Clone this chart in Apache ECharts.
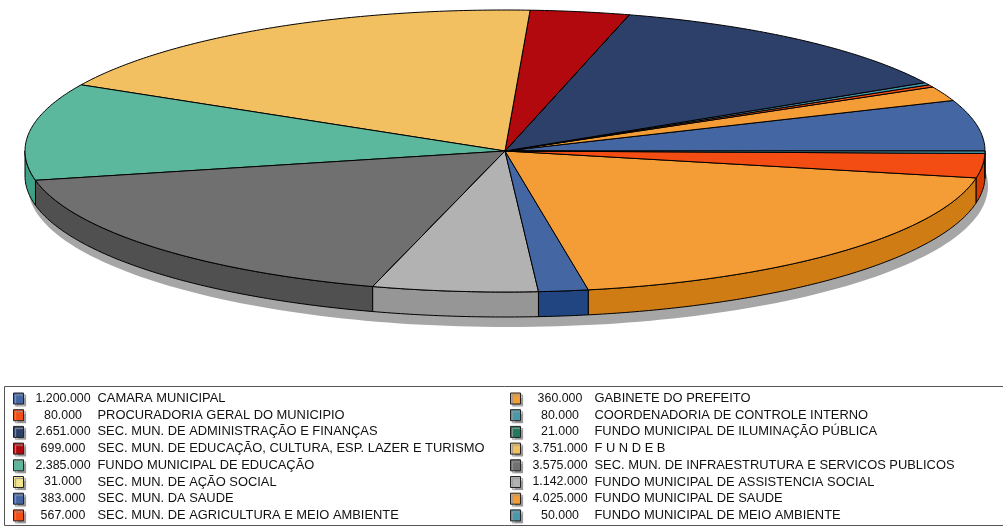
<!DOCTYPE html>
<html>
<head>
<meta charset="utf-8">
<title>Orçamento</title>
<style>
  html, body { margin: 0; padding: 0; background: #fff; }
  #main { width: 1003px; height: 527px; }
</style>
<script src="https://cdn.jsdelivr.net/npm/echarts@6/dist/echarts.min.js"></script>
</head>
<body>
<div id="main"></div>
<script>
// fatias na ordem do grafico (anti-horario a partir de 0 graus)
const names = ["CAMARA MUNICIPAL", "GABINETE DO PREFEITO", "PROCURADORIA GERAL DO MUNICIPIO", "COORDENADORIA DE CONTROLE INTERNO", "SEC. MUN. DE ADMINISTRAÇÃO E FINANÇAS", "FUNDO MUNICIPAL DE ILUMINAÇÃO PÚBLICA", "SEC. MUN. DE EDUCAÇÃO, CULTURA, ESP. LAZER E TURISMO", "F U N D E B", "FUNDO MUNICIPAL DE EDUCAÇÃO", "SEC. MUN. DE INFRAESTRUTURA E SERVICOS PUBLICOS", "SEC. MUN. DE AÇÃO SOCIAL", "FUNDO MUNICIPAL DE ASSISTENCIA SOCIAL", "SEC. MUN. DA SAUDE", "FUNDO MUNICIPAL DE SAUDE", "SEC. MUN. DE AGRICULTURA E MEIO AMBIENTE", "FUNDO MUNICIPAL DE MEIO AMBIENTE"];
const values = [1200000, 360000, 80000, 80000, 2651000, 21000, 699000, 3751000, 2385000, 3575000, 31000, 1142000, 383000, 4025000, 567000, 50000];
const colors = ["#4467A3", "#F49D36", "#F44D13", "#469AAF", "#2C4069", "#1E7A5E", "#B1090E", "#F2C060", "#5CB89C", "#707070", "#F3E58C", "#B2B2B2", "#4467A3", "#F49D36", "#F44D13", "#469AAF"];
const wallColors = ["#214580", "#D07C14", "#D93A00", "#2A7F94", "#1C2C4E", "#125E46", "#8C0408", "#D49A30", "#3FA088", "#505050", "#D0C060", "#969696", "#214580", "#D07C14", "#D93A00", "#2A7F94"];

const cx = 505, cy = 151, rx = 480, ry = 141, depth = 25;
const total = values.reduce((a, b) => a + b, 0);
const starts = [];
values.reduce((acc, v, i) => { starts[i] = acc; return acc + v; }, 0);

// o grafico original arredonda os angulos para graus inteiros
const toAngle = (v) => (Math.round(echarts.number.linearMap(v, [0, total], [0, 360])) * Math.PI) / 180;
const pt = (a, dy) => [cx + rx * Math.cos(a), cy + (dy || 0) - ry * Math.sin(a)];
const arc = (a0, a1, dy) => {
  const n = Math.max(2, Math.ceil((a1 - a0) / 0.01));
  const out = [];
  for (let k = 0; k <= n; k++) out.push(pt(a0 + ((a1 - a0) * k) / n, dy));
  return out;
};
const fmt = (v) => String(v).replace(/\B(?=(\d{3})+$)/g, ".");
const lineStyle = (fill) => ({ fill: fill, stroke: "#000", lineWidth: 1, lineJoin: "round" });

// face superior
function renderFace(params, api) {
  const i = params.dataIndex;
  const a0 = toAngle(starts[i]);
  const a1 = toAngle(starts[i] + api.value(0));
  return { type: "polygon", shape: { points: [[cx, cy]].concat(arc(a0, a1)) }, style: lineStyle(colors[i]) };
}

// parede lateral, so a parte da frente (180 a 360 graus)
function renderWall(params, api) {
  const i = params.dataIndex;
  const a0 = Math.max(toAngle(starts[i]), Math.PI);
  const a1 = toAngle(starts[i] + api.value(0));
  if (a1 <= a0) return null;
  return { type: "polygon", shape: { points: arc(a0, a1).concat(arc(a0, a1, depth).reverse()) }, style: lineStyle(wallColors[i]) };
}

function renderShadow() {
  return { type: "ellipse", shape: { cx: cx + 3, cy: cy + depth + 10, rx: rx, ry: ry }, style: { fill: "#A6A6A6" } };
}

const legendBase = {
  orient: "vertical",
  top: 392,
  padding: 0,
  icon: "rect",
  itemWidth: 10,
  itemHeight: 11,
  itemGap: 3.7,
  selectedMode: false,
  itemStyle: { borderColor: "#222", borderWidth: 1, shadowColor: "#999", shadowBlur: 1, shadowOffsetX: 2, shadowOffsetY: 2 },
  formatter: (name) => `{v|${fmt(values[names.indexOf(name)])}}{n|${name}}`,
  textStyle: {
    rich: {
      v: { width: 69, align: "right", fontFamily: "Liberation Sans", fontSize: 12.4, color: "#111", height: 12, lineHeight: 12 },
      n: { fontFamily: "Liberation Sans", fontSize: 12.9, color: "#111", height: 12, lineHeight: 12 },
    },
  },
};

const myChart = echarts.init(document.getElementById("main"));
myChart.setOption({
  backgroundColor: "#fff",
  animation: false,
  legend: [
    Object.assign({}, legendBase, { left: 13, data: names.filter((n, i) => i % 2 === 0) }),
    Object.assign({}, legendBase, { left: 510, data: names.filter((n, i) => i % 2 === 1) }),
  ],
  graphic: [
    {
      type: "rect",
      silent: true,
      z: -1,
      shape: { x: 4.5, y: 386.5, width: 1010, height: 139 },
      style: { fill: "#fff", stroke: "#555", lineWidth: 1 },
    },
  ],
  series: [
    // so para a legenda, raio zero
    {
      type: "pie",
      radius: [0, 0],
      silent: true,
      label: { show: false },
      labelLine: { show: false },
      data: names.map((n, i) => ({ name: n, value: values[i], itemStyle: { color: colors[i] } })),
    },
    { type: "custom", coordinateSystem: "none", z: 2, silent: true, renderItem: renderShadow, data: [[0]] },
    { type: "custom", coordinateSystem: "none", z: 3, silent: true, renderItem: renderWall, data: values.map((v) => [v]) },
    { type: "custom", coordinateSystem: "none", z: 4, silent: true, renderItem: renderFace, data: values.map((v) => [v]) },
  ],
});
</script>
</body>
</html>
